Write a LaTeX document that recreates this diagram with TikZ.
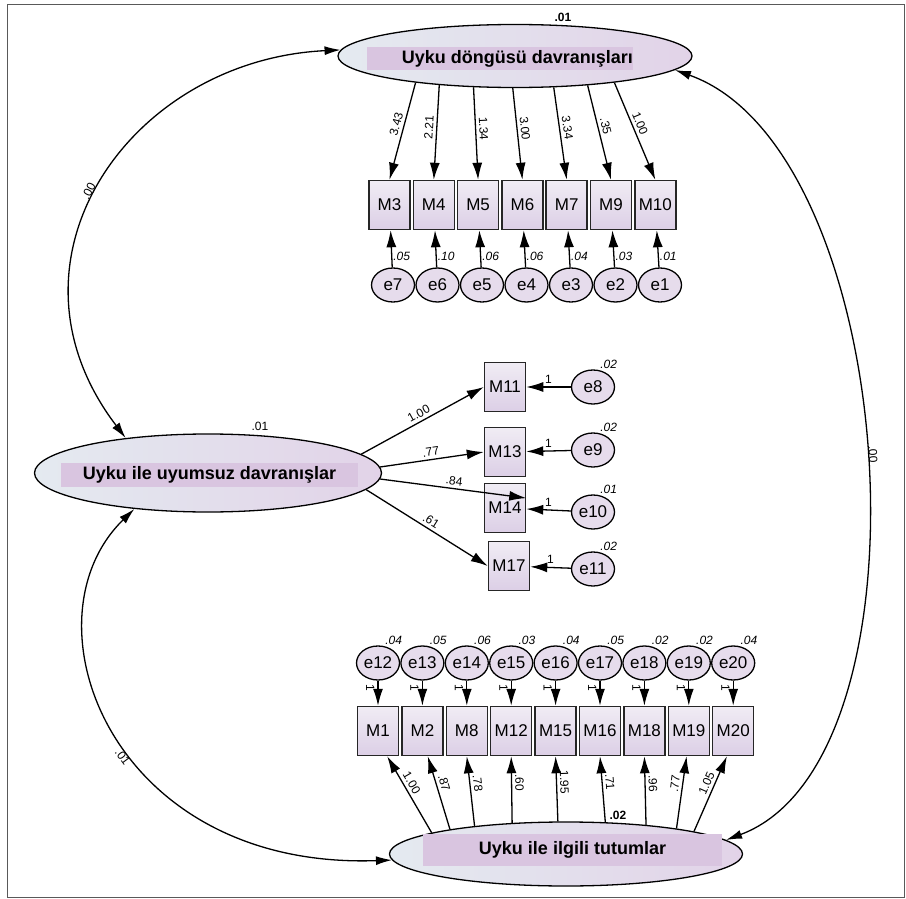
\documentclass[tikz,border=0pt]{standalone}
\usepackage{fontspec}
\setmainfont{Liberation Sans}
\usepackage{xcolor}
\usepackage{tikz}
\usetikzlibrary{arrows.meta, shapes.geometric, calc}
\definecolor{latl}{HTML}{E4EAF0}
\definecolor{latr}{HTML}{E2D3E8}
\definecolor{barcol}{HTML}{D9C5E0}
\definecolor{obst}{HTML}{F0ECF4}
\definecolor{obsb}{HTML}{DCCFE6}
\definecolor{errcol}{HTML}{E6DCEC}
\tikzset{
    latent/.style={ellipse, draw=black, line width=1.3pt, left color=latl, right color=latr, inner sep=0pt},
    bar/.style={rectangle, fill=barcol, inner sep=0pt, font=\fontsize{18}{18}\selectfont\bfseries},
    title/.style={inner sep=0pt, font=\fontsize{18}{18}\selectfont\bfseries},
    obs/.style={rectangle, draw=black!85, line width=1.5pt, top color=obst, bottom color=obsb, minimum width=41pt, minimum height=49pt, inner sep=0pt, font=\fontsize{17}{17}\selectfont},
    err/.style={ellipse, draw=black, line width=1.3pt, fill=errcol, minimum width=43pt, minimum height=34pt, inner sep=0pt, font=\fontsize{17}{17}\selectfont},
    arrow/.style={-{Latex[length=17pt, width=10pt]}, line width=1.3pt},
    covar/.style={{Latex[length=16pt, width=9pt]}-{Latex[length=16pt, width=9pt]}, line width=1.3pt},
    coef/.style={inner sep=3pt, font=\fontsize{12}{12}\selectfont},
    coefb/.style={inner sep=2pt, font=\fontsize{12}{12}\selectfont\bfseries},
    var/.style={inner sep=1pt, font=\fontsize{12}{12}\selectfont\itshape}
}

\begin{document}
\begin{tikzpicture}[x=1pt, y=-1pt]
    \useasboundingbox (0,0) rectangle (906,899);
    \draw[black!65, line width=1pt] (7,5) rectangle (904,897);

    % latent variables
    \node[latent, minimum width=354pt, minimum height=63pt, label={[coefb, xshift=48pt]above:.01}] (cyc) at (515,56) {};
    \node[bar, minimum width=266pt, minimum height=23pt] (cycbar) at (500,58.5) {};
    \node[title, anchor=east] at (cycbar.east) {Uyku döngüsü davranışları};

    \node[latent, minimum width=347pt, minimum height=78pt, label={[coef, xshift=52pt]above:.01}] (mal) at (208,473) {};
    \node[bar, minimum width=297pt, minimum height=24pt] (malbar) at (209.5,475) {Uyku ile uyumsuz davranışlar};

    \node[latent, minimum width=353pt, minimum height=64pt, label={[coefb, xshift=52pt]above:.02}] (att) at (566,854) {};
    \node[bar, minimum width=299pt, minimum height=32pt] (attbar) at (572.5,850) {Uyku ile ilgili tutumlar};

    % top indicators
    \foreach \m/\e/\c/\v/\a [count=\i from 0] in {M3/e7/3.43/.05/195, M4/e6/2.21/.10/201, M5/e5/1.34/.06/217, M6/e4/3.00/.06/266, M7/e3/3.34/.04/321, M9/e2/.35/.03/338, M10/e1/1.00/.01/345}{
        \node[obs] (\m) at (389.5+44.3*\i, 205) {\m};
        \node[err] (\e) at (393+44.5*\i, 285) {\e};
        \draw[arrow] (cyc.\a) -- node[coef, sloped, above, pos=.45] {\c} (\m.north);
        \draw[arrow] (\e) -- node[var, right, pos=.3] {\v} (\m);
    }

    % middle indicators
    \foreach \m/\e/\c/\v/\a/\t/\x/\y/\ey in {M11/e8/1.00/.02/7/west/505/387/387, M13/e9/.77/.02/2/west/505/452/450, M14/e10/.84/.01/358/25/505/508/512, M17/e11/.61/.02/354/west/509/566/569}{
        \node[obs] (\m) at (\x,\y) {\m};
        \node[err, label={[var]70:\v}] (\e) at (593,\ey) {\e};
        \draw[arrow] (mal.\a) -- node[coef, sloped, above, pos=.5] {\c} (\m.\t);
        \draw[arrow] (\e) -- node[coef, above, pos=.5] {1} (\m);
    }

    % bottom indicators
    \foreach \m/\e/\c/\v/\a/\t [count=\i from 0] in {M1/e12/1.00/.04/171/290, M2/e13/.87/.05/168/282, M8/e14/.78/.06/163/270, M12/e15/.60/.03/150/270, M15/e16/1.95/.04/104/270, M16/e17/.71/.05/39/270, M18/e18/.96/.02/20/270, M19/e19/.77/.02/13/265, M20/e20/1.05/.04/10/256}{
        \node[obs] (\m) at (378+44.4*\i, 731) {\m};
        \node[err, label={[var]70:\v}] (\e) at (378+44.4*\i, 663) {\e};
        \draw[arrow] (\e) -- node[coef, sloped, below, pos=.3] {1} (\m);
        \draw[arrow] (att.\a) -- node[coef, sloped, above, pos=.6] {\c} (\m.\t);
    }

    % covariances
    \draw[covar] (mal.157) .. controls (-10,260) and (130,60) .. node[coef, sloped, above, pos=.47] {.00} (cyc.178);
    \draw[covar] (mal.206.6) .. controls (20,620) and (110,870) .. node[coef, sloped, below, pos=.55] {.01} (att.182);
    \draw[covar] (cyc.355) .. controls (900,150) and (940,760) .. node[coef, sloped, above, pos=.5] {.00} (att.5);
\end{tikzpicture}
\end{document}
